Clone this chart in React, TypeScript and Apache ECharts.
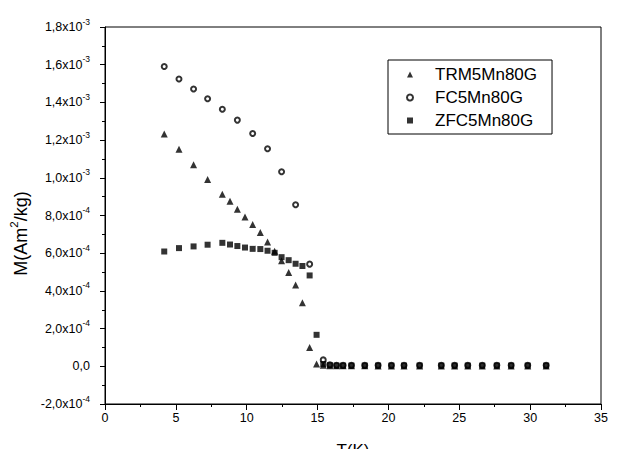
import React, { useEffect, useRef } from "react";
import * as echarts from "echarts";

// Temperatures (K) and magnetisation (in units of 1e-4 Am^2/kg)
const UNIT = 1e-4;

const TRM_T = [4.18, 5.22, 6.25, 7.24, 8.28, 8.82, 9.34, 9.88, 10.42, 10.96, 11.47, 11.97, 12.46, 12.96, 13.45, 13.93, 14.44, 14.93, 15.4, 15.87, 16.34, 16.8, 17.39, 18.33, 19.27, 20.21, 21.1, 22.2, 23.73, 24.67, 25.6, 26.62, 27.65, 28.66, 29.83, 31.13];
const TRM_M = [12.33, 11.52, 10.69, 9.91, 9.13, 8.75, 8.33, 7.92, 7.52, 7.1, 6.6, 6.1, 5.6, 4.97, 4.31, 3.37, 1.0, 0.12, 0.05, 0.03, 0.03, 0.03, 0.03, 0.03, 0.02, 0.02, 0.02, 0.02, 0.02, 0.02, 0.02, 0.02, 0.02, 0.02, 0.02, 0.02];

const FC_T = [4.18, 5.22, 6.25, 7.24, 8.28, 9.34, 10.42, 11.47, 12.46, 13.45, 14.44, 15.4, 15.87, 16.34, 16.8, 17.39, 18.33, 19.27, 20.21, 21.1, 22.2, 23.73, 24.67, 25.6, 26.62, 27.65, 28.66, 29.83, 31.13];
const FC_M = [15.9, 15.24, 14.71, 14.19, 13.64, 13.06, 12.35, 11.54, 10.32, 8.57, 5.42, 0.34, 0.08, 0.06, 0.05, 0.05, 0.05, 0.05, 0.05, 0.05, 0.05, 0.05, 0.05, 0.05, 0.05, 0.05, 0.05, 0.05, 0.05];

const ZFC_T = [4.18, 5.22, 6.25, 7.24, 8.28, 8.82, 9.34, 9.88, 10.42, 10.96, 11.47, 11.97, 12.46, 12.96, 13.45, 13.93, 14.44, 14.93, 15.4, 15.87, 16.34, 16.8, 17.39, 18.33, 19.27, 20.21, 21.1, 22.2, 23.73, 24.67, 25.6, 26.62, 27.65, 28.66, 29.83, 31.13];
const ZFC_M = [6.09, 6.27, 6.36, 6.45, 6.55, 6.46, 6.38, 6.3, 6.23, 6.22, 6.13, 6.02, 5.79, 5.63, 5.44, 5.32, 4.82, 1.67, 0.12, 0.06, 0.04, 0.04, 0.04, 0.04, 0.04, 0.04, 0.04, 0.04, 0.04, 0.04, 0.04, 0.04, 0.04, 0.04, 0.04, 0.04];

const SERIES_NAMES = ["TRM5Mn80G", "FC5Mn80G", "ZFC5Mn80G"];
const LEGEND_ICONS = ["triangle", "emptyCircle", "rect"];

const X_MIN = 0;
const X_MAX = 35;
const X_STEP = 5;
const Y_MIN = -2e-4;
const Y_MAX = 1.8e-3;
const Y_STEP = 2e-4;

const FONT = "'Liberation Sans', Arial, sans-serif";

function pairs(ts: number[], ms: number[]) {
  return ts.map((t, i) => [t, ms[i] * UNIT]);
}

function sciLabel(v: number) {
  if (Math.abs(v) < 1e-12) return "{m|0,0}";
  const e = Math.floor(Math.log10(Math.abs(v)) + 1e-9);
  const m = v / Math.pow(10, e);
  return `{m|${m.toFixed(1).replace(".", ",")}x10}{e|${e}}`;
}

export default function App() {
  const ref = useRef<HTMLDivElement>(null);

  useEffect(() => {
    if (!ref.current) return;
    const chart = echarts.init(ref.current, undefined, { renderer: "svg" });
    const black = "#000";
    chart.setOption({
      animation: false,
      backgroundColor: "#fff",
      grid: {
        left: 105,
        right: 22,
        top: 27,
        bottom: 45,
        outerBoundsMode: "none",
        containLabel: false,
        show: true,
        borderColor: black,
        borderWidth: 1,
      },
      legend: {
        orient: "vertical",
        left: 388,
        top: 60,
        itemWidth: 6,
        itemHeight: 6,
        itemGap: 4,
        padding: [5, 15, 4, 18],
        borderColor: black,
        borderWidth: 1,
        textStyle: { fontSize: 17, fontFamily: FONT, color: black, lineHeight: 19, padding: [0, 0, 0, 17] },
        data: SERIES_NAMES.map((n, i) => ({ name: n, icon: LEGEND_ICONS[i] })),
      },
      xAxis: {
        type: "value",
        min: X_MIN,
        max: X_MAX,
        interval: X_STEP,
        axisLine: { onZero: false, lineStyle: { color: black, width: 1 } },
        axisTick: { inside: false, length: 6, lineStyle: { color: black } },
        minorTick: { show: true, splitNumber: 2, length: 3, lineStyle: { color: black } },
        splitLine: { show: false },
        axisLabel: { margin: 7, fontSize: 12.5, fontFamily: FONT, color: black },
        name: "T(K)",
        nameLocation: "middle",
        nameGap: 38,
        nameTextStyle: { fontSize: 17, fontFamily: FONT, color: black },
      },
      yAxis: {
        type: "value",
        min: Y_MIN,
        max: Y_MAX,
        interval: Y_STEP,
        axisLine: { onZero: false, lineStyle: { color: black, width: 1 } },
        axisTick: { inside: false, length: 5, lineStyle: { color: black } },
        minorTick: { show: true, splitNumber: 2, length: 3, lineStyle: { color: black } },
        splitLine: { show: false },
        axisLabel: {
          margin: 15,
          formatter: (v: number) => sciLabel(v),
          rich: {
            m: { fontSize: 12.5, fontFamily: FONT, color: black, lineHeight: 20 },
            e: { fontSize: 8.5, fontFamily: FONT, color: black, lineHeight: 10, verticalAlign: "top" },
          },
        },
        name: "{a|M(Am}{s|2}{a|/kg)}",
        nameLocation: "middle",
        nameGap: 66,
        nameTextStyle: {
          padding: [0, 36, 0, 0],
          rich: {
            a: { fontSize: 18, fontFamily: FONT, color: black, lineHeight: 26 },
            s: { fontSize: 11.5, fontFamily: FONT, color: black, lineHeight: 12, verticalAlign: "top" },
          },
        },
      },
      series: [
        {
          name: SERIES_NAMES[0],
          type: "scatter",
          symbol: "triangle",
          symbolSize: 7,
          itemStyle: { color: black },
          data: pairs(TRM_T, TRM_M),
        },
        {
          name: SERIES_NAMES[1],
          type: "scatter",
          symbol: "emptyCircle",
          symbolSize: 5,
          itemStyle: { color: black, borderColor: black, borderWidth: 1 },
          data: pairs(FC_T, FC_M),
        },
        {
          name: SERIES_NAMES[2],
          type: "scatter",
          symbol: "rect",
          symbolSize: 6,
          itemStyle: { color: black },
          data: pairs(ZFC_T, ZFC_M),
        },
      ],
    });
    return () => chart.dispose();
  }, []);

  return (
    <div
      ref={ref}
      style={{ position: "fixed", left: 0, top: 0, width: 623, height: 449, background: "#fff" }}
    />
  );
}
